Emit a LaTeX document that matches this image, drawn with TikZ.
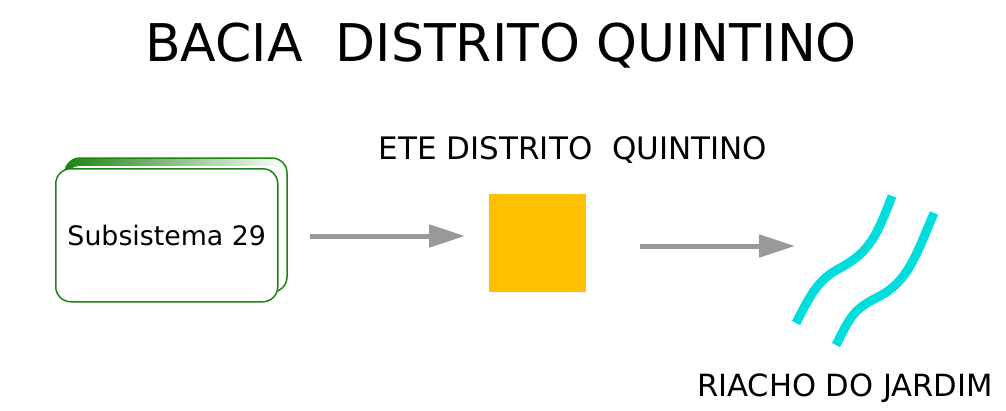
\documentclass[tikz,border=0pt]{standalone}
\usepackage{fontspec}
\setmainfont{DejaVu Sans}
\usetikzlibrary{arrows.meta}
\definecolor{boxgreen}{RGB}{30,130,20}
\definecolor{ete}{RGB}{255,192,0}
\definecolor{river}{RGB}{0,221,221}
\definecolor{arrowgray}{RGB}{153,153,153}
\tikzset{
  flowarrow/.style={draw=arrowgray, line width=5pt, -{Triangle[length=36pt,width=22pt]}},
  riverline/.style={draw=river, line width=9pt},
  lbl/.style={inner sep=0pt, text=black}
}
\begin{document}
\begin{tikzpicture}[x=1pt,y=-1pt]
\useasboundingbox (0,0) rectangle (1006,410);
% title
\node[lbl, font=\fontsize{52}{62}\selectfont] (title) at (501,46) {BACIA\ \ DISTRITO QUINTINO};
% back box
\shade[left color=boxgreen, right color=white, rounded corners=15pt] (65,158) rectangle (287,292);
\fill[white, rounded corners=12pt] (67,166) rectangle (285.5,290.5);
\draw[boxgreen, line width=1.5pt, rounded corners=15pt] (65,158) rectangle (287,292);
% front box
\node[draw=boxgreen, line width=1.5pt, fill=white, rounded corners=15pt, minimum width=222pt, minimum height=133pt, inner sep=0pt, anchor=north west, font=\fontsize{26.8}{30}\selectfont] (sub) at (55,168) {Subsistema 29};
% ETE
\node[lbl, font=\fontsize{31}{36}\selectfont] (etelbl) at (573,150) {ETE DISTRITO\ \ QUINTINO};
\node[fill=ete, minimum width=97pt, minimum height=98pt, inner sep=0pt, anchor=north west] (ete) at (489,194) {};
% arrows
\coordinate (a1s) at (310,236);
\coordinate (a1e) at (465,236);
\draw[flowarrow] (a1s) -- (a1e);
\coordinate (a2s) at (640,246);
\coordinate (a2e) at (795,246);
\draw[flowarrow] (a2s) -- (a2e);
% river
\draw[riverline] (796,323) .. controls (812,292) and (818,280) .. (840,268) .. controls (870,252) and (877,235) .. (892,196);
\draw[riverline] (836,345) .. controls (850,318) and (852,310) .. (878,297) .. controls (908,282) and (916,255) .. (934,213);
\node[lbl, font=\fontsize{30.6}{36}\selectfont] (riolbl) at (845,388) {RIACHO DO JARDIM};
\end{tikzpicture}
\end{document}
